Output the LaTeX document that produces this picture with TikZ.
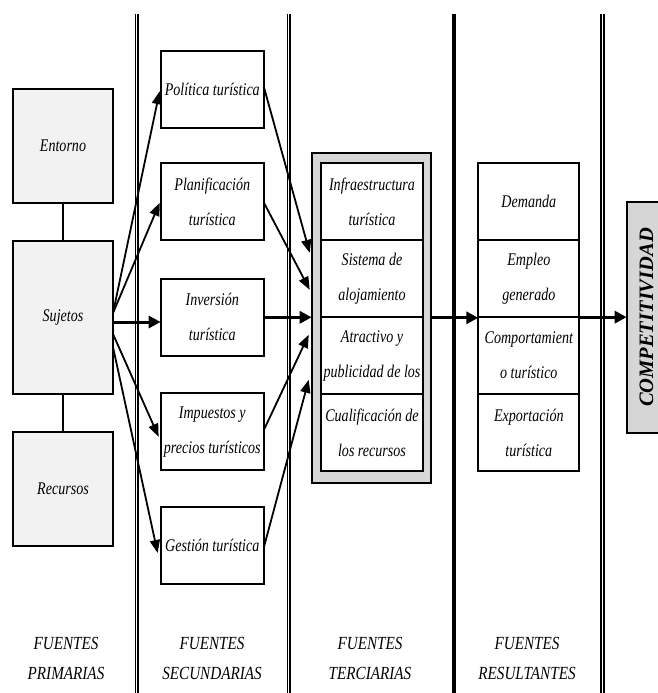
\documentclass[tikz,border=0pt]{standalone}
\usepackage{fontspec}
\usetikzlibrary{arrows.meta,calc}
\newfontfamily\boxfont[FakeStretch=0.79]{Liberation Serif}
\newfontfamily\headfont[FakeStretch=0.82]{Liberation Serif}
\newfontfamily\compfont{Liberation Serif}
\definecolor{paleg}{HTML}{F2F2F2}
\definecolor{midg}{HTML}{D6D6D6}
\begin{document}
\begin{tikzpicture}[x=1pt,y=-1pt,
  every node/.style={inner sep=0pt,outer sep=0pt},
  txt/.style={font=\boxfont\fontsize{17.8}{35}\selectfont\itshape,align=center},
  primbox/.style={draw,line width=2pt,fill=paleg,minimum width=100pt,txt},
  secbox/.style={draw,line width=2pt,fill=white,minimum width=103.3pt,minimum height=77pt,txt},
  cell/.style={draw,line width=1.8pt,fill=white,minimum height=76.9pt,txt},
  colhead/.style={font=\headfont\fontsize{18.5}{30}\selectfont\itshape,align=center},
  arr/.style={line width=1.8pt,-{Triangle[length=13pt,width=10pt]}},
  harr/.style={line width=3pt,-{Triangle[length=12pt,width=12pt]}},
  thin/.style={line width=1.3pt},
]
\useasboundingbox (0,0) rectangle (658,693);
\clip (0,0) rectangle (658,693);

% column separators
\draw[thin] (135.7,14) -- (135.7,700);
\draw[thin] (138.1,14) -- (138.1,700);
\draw[thin] (287.3,14) -- (287.3,700);
\draw[thin] (290.0,14) -- (290.0,700);
\draw[line width=4pt] (454,14) -- (454,700);
\draw[line width=1.8pt] (601,14) -- (601,700);
\draw[line width=1.8pt] (604.2,14) -- (604.2,700);

% primary sources
\node[primbox,minimum height=114pt] (ent) at (63,146) {Entorno};
\node[primbox,minimum height=153pt] (suj) at (63,317.5) {Sujetos};
\node[primbox,minimum height=114pt] (rec) at (63,489) {Recursos};
\draw[line width=2pt] (ent.south) -- (suj.north);
\draw[line width=2pt] (suj.south) -- (rec.north);

% secondary sources
\node[secbox] (pol) at (212.3,89.2) {Política turística};
\node[secbox] (pla) at (212.3,201.8) {Planificación\\turística};
\node[secbox] (inv) at (212.3,317.3) {Inversión\\turística};
\node[secbox] (imp) at (212.3,431.8) {Impuestos y\\precios turísticos};
\node[secbox] (ges) at (212.3,545) {Gestión turística};

% tertiary sources
\node[draw,line width=2pt,fill=midg,minimum width=118.8pt,minimum height=330.3pt] (ter) at (371.1,317.8) {};
\node[cell,minimum width=102.6pt] (t1) at (372,201.8) {Infraestructura\\turística};
\node[cell,minimum width=102.6pt] (t2) at (372,278.7) {Sistema de\\alojamiento};
\node[cell,minimum width=102.6pt] (t3) at (372,355.6) {Atractivo y\\publicidad de los};
\node[cell,minimum width=102.6pt] (t4) at (372,432.5) {Cualificación de\\los recursos};

% resulting sources
\node[cell,minimum width=101pt] (r1) at (528.8,201.8) {Demanda};
\node[cell,minimum width=101pt] (r2) at (528.8,278.7) {Empleo\\generado};
\node[cell,minimum width=101pt] (r3) at (528.8,355.6) {Comportamient\\o turístico};
\node[cell,minimum width=101pt] (r4) at (528.8,432.5) {Exportación\\turística};

% competitiveness
\node[draw,line width=2pt,fill=midg,minimum width=44pt,minimum height=231pt] (comp) at (648.7,317.3) {};
\node[rotate=90,font=\compfont\fontsize{20.5}{22}\selectfont\bfseries\itshape] (comptxt) at (646.5,317.5) {COMPETITIVIDAD};

% primary -> secondary
\coordinate (s1) at ($(suj.east)+(0,-4.5)$);
\coordinate (s2) at ($(suj.east)+(0,4.5)$);
\coordinate (s3) at ($(suj.east)+(0,16.5)$);
\coordinate (s4) at ($(suj.east)+(0,29.5)$);
\draw[arr] (s1) -- ($(pol.west)+(-1,2)$);
\draw[arr] (s1) -- ($(pla.west)+(-1,1)$);
\draw[harr] (s2) -- (s2 -| inv.west);
\draw[arr] (s3) -- ($(imp.west)+(-2,5)$);
\draw[arr] (s4) -- ($(ges.west)+(-3,8)$);

% secondary -> tertiary
\draw[arr] ($(pol.east)+(0,-2)$) -- ($(ter.west)+(-2,-65)$);
\draw[arr] ($(pla.east)+(0,1)$) -- ($(ter.west)+(-2,-28)$);
\draw[harr] (inv.east) -- (inv.east -| ter.west);
\draw[arr] ($(imp.east)+(0,-2)$) -- ($(ter.west)+(-3,17)$);
\draw[arr] ($(ges.east)+(0,2)$) -- ($(ter.west)+(-3,62)$);

% tertiary -> resulting -> competitiveness
\draw[harr] (ter.east) -- (ter.east -| r1.west);
\draw[harr] (r3.north east) -- (r3.north east -| comp.west);

% column headings
\node[colhead] (h1) at (66,658) {FUENTES\\PRIMARIAS};
\node[colhead] (h2) at (212,658) {FUENTES\\SECUNDARIAS};
\node[colhead] (h3) at (370,658) {FUENTES\\TERCIARIAS};
\node[colhead] (h4) at (527,658) {FUENTES\\RESULTANTES};
\end{tikzpicture}
\end{document}
